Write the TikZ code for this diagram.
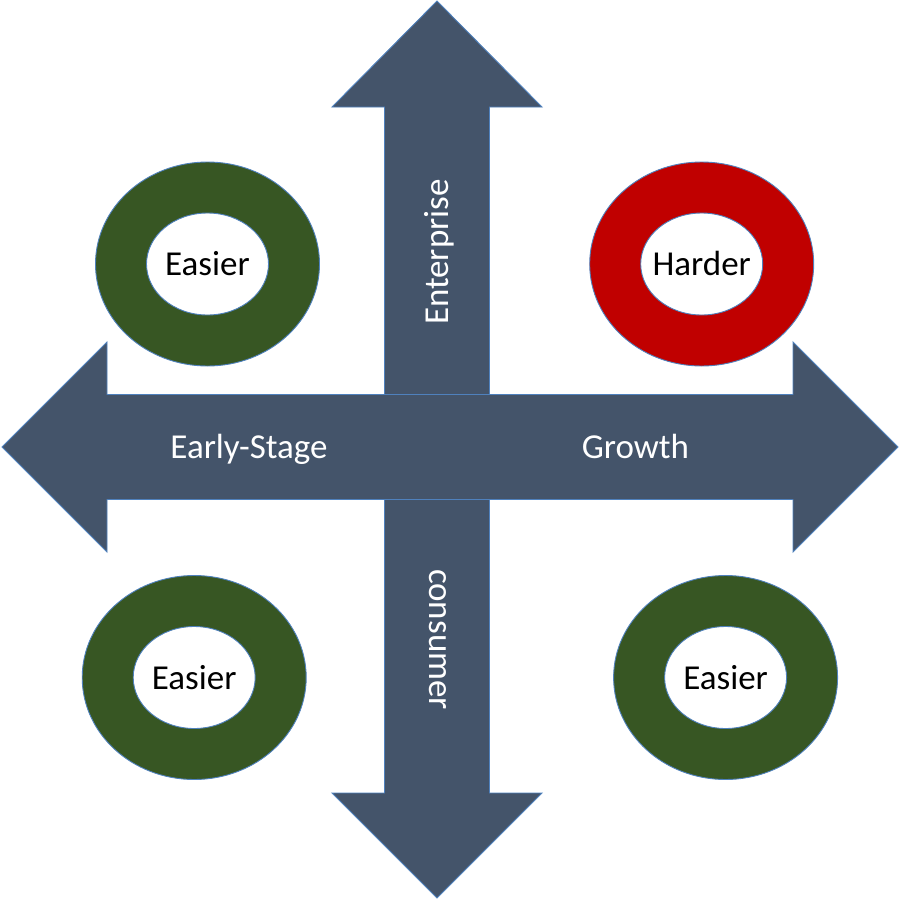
\documentclass[tikz,border=0pt]{standalone}
\usepackage{fontspec}
\setmainfont{Carlito}
\usepackage{xcolor}
\definecolor{mSlate}{HTML}{44546A}
\definecolor{mEdge}{HTML}{4F81BD}
\definecolor{mGreen}{HTML}{375623}
\definecolor{mRed}{HTML}{C00000}
\usetikzlibrary{positioning}

\begin{document}
\begin{tikzpicture}[x=1pt, y=-1pt,
  bigarrow/.style={draw=mEdge, line width=0.9pt, fill=mSlate, line join=miter},
  ring/.style={draw=mEdge, line width=0.9pt, even odd rule},
  axislbl/.style={font=\fontsize{35}{40}\selectfont, text=white, inner sep=0pt, anchor=base},
  ringlbl/.style={font=\fontsize{35}{40}\selectfont, text=black, inner sep=0pt, anchor=base}]
\useasboundingbox (0,0) rectangle (900,900);
% vertical double arrow
\draw[bigarrow] (437,1) -- (542,107) -- (489.5,107) -- (489.5,793) -- (542,793) -- (437,898)
  -- (332,793) -- (384.5,793) -- (384.5,107) -- (332,107) -- cycle;
% horizontal double arrow, on top
\draw[bigarrow] (2,447) -- (107,342) -- (107,394.5) -- (793,394.5) -- (793,342) -- (898,447)
  -- (793,552) -- (793,499.5) -- (107,499.5) -- (107,552) -- cycle;
\node[axislbl] (early) at (249,458.5) {Early-Stage};
\node[axislbl] (growth) at (635.5,458.5) {Growth};
\node[axislbl, rotate=90] (enterprise) at (448.5,252) {Enterprise};
\node[axislbl, rotate=-90] (consumer) at (429.5,639.5) {consumer};
% the four rings
\foreach \nm/\cx/\cy/\col/\txt in {tl/207.5/264/mGreen/Easier, tr/701.7/264/mRed/Harder,
    bl/194.2/677.5/mGreen/Easier, br/725.6/677.5/mGreen/Easier}{
  \path[ring, fill=\col] (\cx,\cy) ellipse [x radius=112, y radius=102]
    (\cx,\cy) ellipse [x radius=61, y radius=51];
  \node[ringlbl] (\nm) at (\cx,\cy+11.5) {\txt};
}
\end{tikzpicture}
\end{document}
